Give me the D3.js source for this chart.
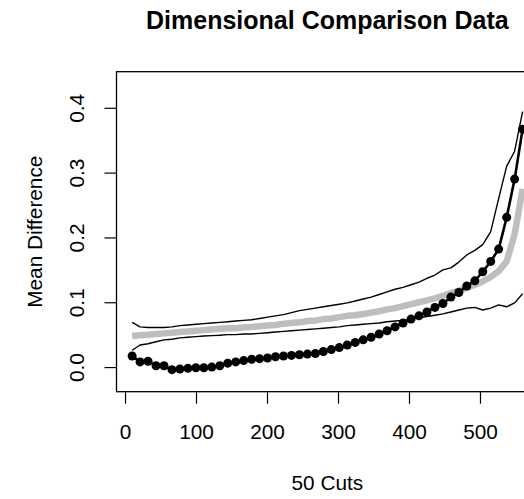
<!DOCTYPE html>
<html>
<head>
<meta charset="utf-8">
<script src="https://cdn.jsdelivr.net/npm/d3@7"></script>
<style>
  html, body { margin: 0; padding: 0; background: #fff; }
  svg { display: block; font-family: "Liberation Sans", Arial, sans-serif; }
  .axis text { font-size: 20.8px; fill: #000; }
  .axis line { stroke: #000; stroke-width: 1.2; }
</style>
</head>
<body>
<svg id="chart" width="524" height="499"></svg>
<script>
/* Dimensional comparison: mean difference per cut, with upper/lower
 * envelope (thin black) and a reference curve (thick grey). */

const cuts = [10.0, 21.2, 32.4, 43.7, 54.9, 66.1, 77.3, 88.6, 99.8, 111.0,
  122.2, 133.5, 144.7, 155.9, 167.1, 178.4, 189.6, 200.8, 212.0, 223.3,
  234.5, 245.7, 256.9, 268.2, 279.4, 290.6, 301.8, 313.1, 324.3, 335.5,
  346.7, 358.0, 369.2, 380.4, 391.6, 402.9, 414.1, 425.3, 436.5, 447.8,
  459.0, 470.2, 481.4, 492.7, 503.9, 515.1, 526.3, 537.6, 548.8, 560.0];

const meanDiff = [0.017, 0.008, 0.009, 0.002, 0.002, -0.004, -0.003, -0.002, -0.001, -0.001,
  0.000, 0.002, 0.006, 0.008, 0.010, 0.012, 0.013, 0.014, 0.016, 0.017,
  0.018, 0.019, 0.020, 0.021, 0.024, 0.027, 0.030, 0.034, 0.038, 0.042,
  0.046, 0.051, 0.056, 0.062, 0.068, 0.074, 0.079, 0.085, 0.092, 0.098,
  0.108, 0.115, 0.125, 0.133, 0.147, 0.163, 0.182, 0.231, 0.290, 0.367];

const upperBand = [0.069, 0.062, 0.061, 0.061, 0.061, 0.062, 0.064, 0.065, 0.066, 0.067,
  0.068, 0.069, 0.070, 0.071, 0.072, 0.073, 0.075, 0.077, 0.079, 0.081,
  0.084, 0.087, 0.089, 0.091, 0.093, 0.095, 0.097, 0.099, 0.102, 0.105,
  0.108, 0.112, 0.116, 0.120, 0.123, 0.127, 0.131, 0.137, 0.142, 0.150,
  0.153, 0.162, 0.173, 0.180, 0.189, 0.209, 0.260, 0.310, 0.333, 0.394];

const lowerBand = [0.026, 0.034, 0.036, 0.039, 0.042, 0.043, 0.045, 0.046, 0.047, 0.048,
  0.0485, 0.049, 0.050, 0.050, 0.051, 0.051, 0.052, 0.053, 0.054, 0.055,
  0.056, 0.057, 0.058, 0.059, 0.060, 0.061, 0.062, 0.064, 0.065, 0.066,
  0.067, 0.068, 0.070, 0.071, 0.072, 0.074, 0.076, 0.078, 0.080, 0.082,
  0.085, 0.088, 0.091, 0.092, 0.088, 0.091, 0.096, 0.093, 0.099, 0.113];

const reference = [0.048, 0.049, 0.050, 0.051, 0.052, 0.053, 0.054, 0.055, 0.056, 0.057,
  0.058, 0.059, 0.060, 0.060, 0.061, 0.062, 0.063, 0.064, 0.065, 0.067,
  0.068, 0.069, 0.071, 0.072, 0.074, 0.075, 0.077, 0.079, 0.080, 0.082,
  0.084, 0.086, 0.089, 0.091, 0.094, 0.097, 0.100, 0.103, 0.106, 0.110,
  0.114, 0.118, 0.122, 0.127, 0.132, 0.139, 0.148, 0.163, 0.205, 0.275];

const xTicks = [0, 100, 200, 300, 400, 500];
const yTicks = [0.0, 0.1, 0.2, 0.3, 0.4];

const title = 'Dimensional Comparison Data';
const xTitle = '50 Cuts';
const yTitle = 'Mean Difference';

// ---- layout (plot region runs off the right edge, as in the original)
const plot = { left: 116.5, top: 71.7, right: 538.2, bottom: 391.7 };

const svg = d3.select('#chart');

const x = d3.scaleLinear().domain([-12, 582]).range([plot.left, plot.right]);
const y = d3.scaleLinear().domain([-0.038, 0.4557]).range([plot.bottom, plot.top]);

const pts = cuts.map((c, i) => ({ c, i }));
const lineOf = arr => d3.line().x(d => x(d.c)).y(d => y(arr[d.i]));

// reference curve: thick grey
svg.append('path')
  .datum(pts)
  .attr('d', lineOf(reference))
  .attr('fill', 'none')
  .attr('stroke', '#bebebe')
  .attr('stroke-width', 6.5)
  .attr('stroke-linejoin', 'round');

// envelope: thin black lines
[upperBand, lowerBand].forEach(band => {
  svg.append('path')
    .datum(pts)
    .attr('d', lineOf(band))
    .attr('fill', 'none')
    .attr('stroke', '#000')
    .attr('stroke-width', 1.4)
    .attr('stroke-linejoin', 'round');
});

// mean difference: line + filled dots
svg.append('path')
  .datum(pts)
  .attr('d', lineOf(meanDiff))
  .attr('fill', 'none')
  .attr('stroke', '#000')
  .attr('stroke-width', 2.6);

svg.append('g')
  .selectAll('circle')
  .data(pts)
  .join('circle')
  .attr('cx', d => x(d.c))
  .attr('cy', d => y(meanDiff[d.i]))
  .attr('r', 4.5)
  .attr('fill', '#000');

// ---- axes
const gx = svg.append('g')
  .attr('class', 'axis')
  .attr('transform', `translate(0,${plot.bottom})`)
  .call(d3.axisBottom(x).tickValues(xTicks).tickFormat(d3.format('d'))
    .tickSize(12).tickPadding(21));
gx.select('.domain').remove();

const gy = svg.append('g')
  .attr('class', 'axis')
  .attr('transform', `translate(${plot.left},0)`)
  .call(d3.axisLeft(y).tickValues(yTicks).tickFormat(d3.format('.1f'))
    .tickSize(12));
gy.select('.domain').remove();
gy.selectAll('text')
  .attr('x', null)
  .attr('dy', null)
  .attr('text-anchor', 'middle')
  .attr('transform', 'translate(-32.5,0) rotate(-90)');

// box round the plot region
svg.append('rect')
  .attr('x', plot.left)
  .attr('y', plot.top)
  .attr('width', plot.right - plot.left)
  .attr('height', plot.bottom - plot.top)
  .attr('fill', 'none')
  .attr('stroke', '#000')
  .attr('stroke-width', 1.3);

// ---- titles
const midX = (plot.left + plot.right) / 2;
const midY = (plot.top + plot.bottom) / 2;

svg.append('text')
  .attr('x', midX)
  .attr('y', 29)
  .attr('text-anchor', 'middle')
  .attr('font-size', 25)
  .attr('font-weight', 'bold')
  .text(title);

svg.append('text')
  .attr('x', midX)
  .attr('y', 490)
  .attr('text-anchor', 'middle')
  .attr('font-size', 20.8)
  .text(xTitle);

svg.append('text')
  .attr('transform', `translate(41.7,${midY}) rotate(-90)`)
  .attr('text-anchor', 'middle')
  .attr('font-size', 20.8)
  .text(yTitle);
</script>
</body>
</html>
